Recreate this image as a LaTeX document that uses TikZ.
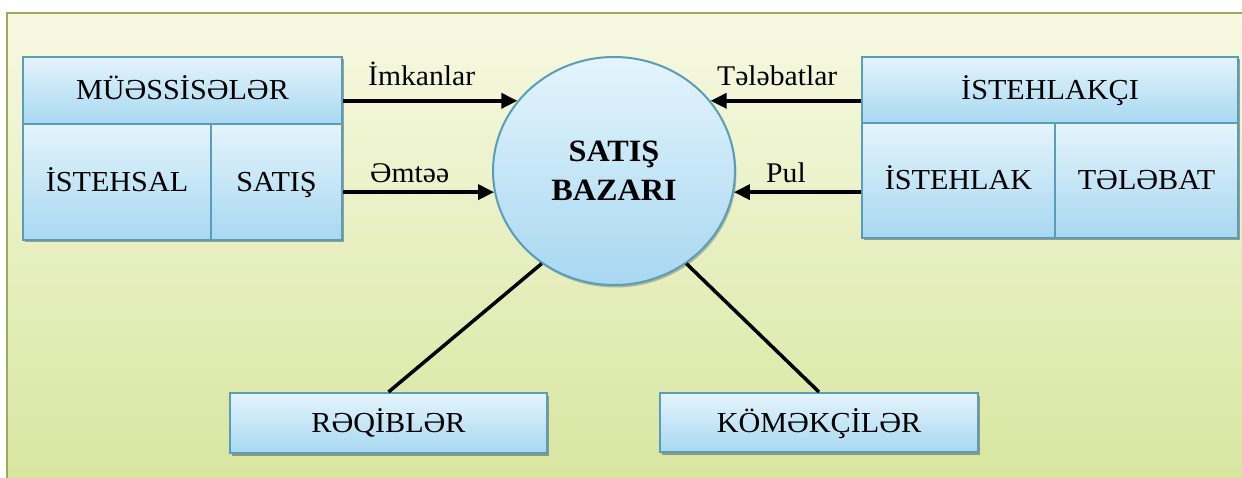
\documentclass[tikz,border=0pt]{standalone}
\usepackage{fontspec}
\setmainfont{Liberation Serif}[FakeStretch=1.04]
\usetikzlibrary{arrows.meta,shadows,shapes.geometric}
\definecolor{bgtop}{RGB}{247,249,226}
\definecolor{bgbot}{RGB}{216,230,160}
\definecolor{framecol}{RGB}{160,168,96}
\definecolor{boxtop}{RGB}{228,244,252}
\definecolor{boxbot}{RGB}{168,216,241}
\definecolor{boxline}{RGB}{88,158,186}
\begin{document}
\begin{tikzpicture}[x=1pt,y=-1pt,
  cell/.style={draw=boxline, line width=2pt, top color=boxtop, bottom color=boxbot,
    minimum width=#1, inner sep=0pt, font=\fontsize{29}{32}\selectfont,
    text height=19pt, text depth=0pt,
    drop shadow={shadow xshift=1.5pt, shadow yshift=-2.5pt, opacity=0.5, fill=black!70}},
  lbl/.style={inner sep=0pt, font=\fontsize{28.5}{32}\selectfont, anchor=base west},
  arr/.style={line width=3.5pt, -{Triangle[length=16pt,width=15pt]}},
  link/.style={line width=3.5pt}
]
\useasboundingbox (0,0) rectangle (1242,478);
\fill[white] (0,0) rectangle (1242,478);
\fill[top color=bgtop, bottom color=bgbot] (7,13) rectangle (1242,478);
\draw[framecol, line width=1.5pt] (7,478) -- (7,13) -- (1242,13);

% left block
\node[cell=319pt, minimum height=67pt] (lhead) at (182.5,90.5) {MÜƏSSİSƏLƏR};
\node[cell=188pt, minimum height=116pt] (lprod) at (117,182) {İSTEHSAL};
\node[cell=131pt, minimum height=116pt] (lsat) at (276.5,182) {SATIŞ};

% right block
\node[cell=376pt, minimum height=66pt] (rhead) at (1050,90) {İSTEHLAKÇI};
\node[cell=193pt, minimum height=115pt] (rcons) at (958.5,180.5) {İSTEHLAK};
\node[cell=183pt, minimum height=115pt] (rdem) at (1146.5,180.5) {TƏLƏBAT};

% bottom boxes
\node[cell=317pt, minimum height=60pt] (rqb) at (388.5,423) {RƏQİBLƏR};
\node[cell=318pt, minimum height=59pt] (kmk) at (819,422.5) {KÖMƏKÇİLƏR};

% centre
\node[ellipse, draw=boxline, line width=2pt, top color=boxtop, bottom color=boxbot,
  minimum width=242pt, minimum height=228pt, inner sep=0pt, align=center,
  font=\bfseries\fontsize{31}{39}\selectfont,
  drop shadow={shadow xshift=1.5pt, shadow yshift=-2.5pt, opacity=0.35, fill=black!70}]
  (bazar) at (614,171) {SATIŞ\\BAZARI};

% arrows
\draw[arr] (lhead.east |- bazar.144) -- (bazar.144);
\draw[arr] (lsat.east |- bazar.190.5) -- (bazar.190.5);
\draw[arr] (rhead.west |- bazar.36) -- (bazar.36);
\draw[arr] (rcons.west |- bazar.350) -- (bazar.350);

% labels
\node[lbl] (imk) at (368,86) {İmkanlar};
\node[lbl] (tlb) at (717,86) {Tələbatlar};
\node[lbl] (emt) at (370,183) {Əmtəə};
\node[lbl] (pul) at (766,183) {Pul};

% links
\draw[link] (bazar.232) -- (rqb.north);
\draw[link] (bazar.308) -- (kmk.north);
\end{tikzpicture}
\end{document}
